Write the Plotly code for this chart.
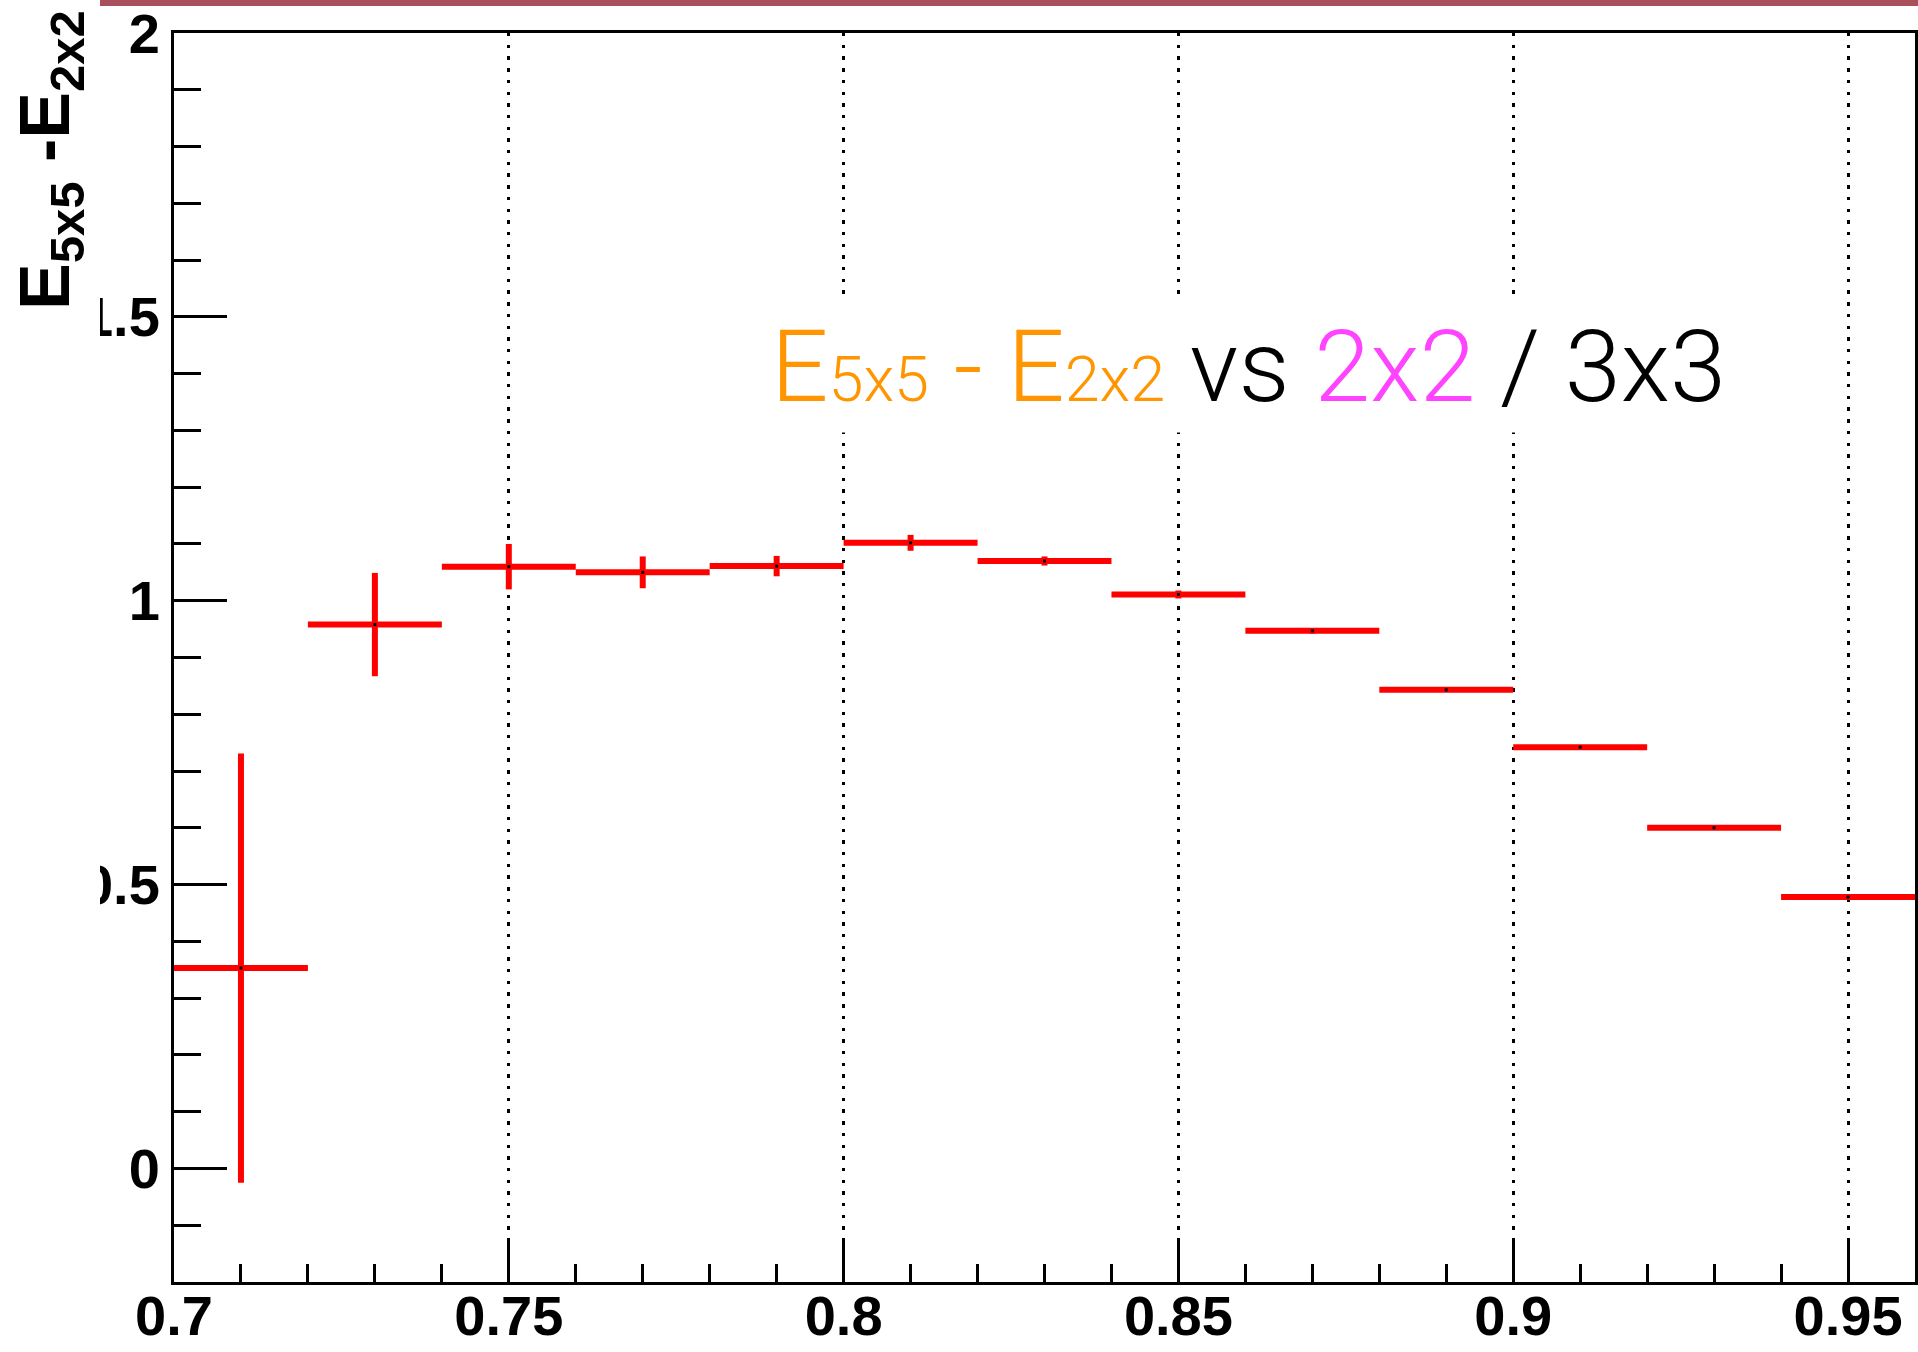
import plotly.graph_objects as go

# ---- data ----
bin_centers = [0.71, 0.73, 0.75, 0.77, 0.79, 0.81, 0.83, 0.85, 0.87, 0.89, 0.91, 0.93, 0.95]
bin_halfwidth = [0.01] * 13
values = [0.353, 0.958, 1.060, 1.050, 1.061, 1.102, 1.070, 1.011, 0.947, 0.843, 0.742, 0.600, 0.478]
errors = [0.378, 0.091, 0.040, 0.028, 0.018, 0.014, 0.008, 0.007, 0.005, 0.003, 0.002, 0.002, 0.002]

x_tickvals = [0.7, 0.75, 0.8, 0.85, 0.9, 0.95]
x_ticktext = ["0.7", "0.75", "0.8", "0.85", "0.9", "0.95"]
y_tickvals = [0, 0.5, 1, 1.5, 2]
y_ticktext = ["0", "0.5", "1", "1.5", "2"]

W, H = 1918, 1352
L, R, T, B = 174, 3, 33, 70
PW, PH = W - L - R, H - T - B


def px_to_paper_x(px):
    return (px - L) / PW


def px_to_paper_y(py):
    return (H - B - py) / PH


fig = go.Figure()
fig.add_trace(go.Scatter(
    x=bin_centers, y=values, mode="markers",
    marker=dict(symbol="square", size=3, color="black"),
    error_x=dict(type="data", array=bin_halfwidth, symmetric=True,
                 thickness=6, width=0, color="#FF0000"),
    error_y=dict(type="data", array=errors, symmetric=True,
                 thickness=6, width=0, color="#FF0000"),
    showlegend=False, hoverinfo="x+y",
))

tickfont = dict(family="Liberation Sans, Arial, Helvetica, sans-serif", size=56,
                color="black", weight="bold")

fig.update_xaxes(
    range=[0.7, 0.96], tickmode="array", tickvals=x_tickvals, ticktext=x_ticktext,
    ticks="inside", ticklen=42, tickwidth=3, tickcolor="black",
    minor=dict(dtick=0.01, tick0=0.7, ticks="inside", ticklen=18, tickwidth=3,
               tickcolor="black", showgrid=False),
    showgrid=True, gridcolor="black", gridwidth=2.6, griddash="3.4px,8.3px",
    showline=True, linecolor="black", linewidth=3, mirror=True,
    zeroline=False, tickfont=tickfont, automargin=False, ticklabelstandoff=-17,
)
fig.update_yaxes(
    range=[-0.2, 2], tickmode="array", tickvals=y_tickvals, ticktext=y_ticktext,
    ticks="inside", ticklen=53, tickwidth=3, tickcolor="black",
    minor=dict(dtick=0.1, tick0=0, ticks="inside", ticklen=27, tickwidth=3,
               tickcolor="black", showgrid=False),
    showgrid=False,
    showline=True, linecolor="black", linewidth=3, mirror=True,
    zeroline=False, tickfont=tickfont, automargin=False,
)

shapes = [
    # white strip at the left edge (the cropped slide image)
    dict(type="rect", xref="paper", yref="paper",
         x0=px_to_paper_x(-5), x1=px_to_paper_x(100),
         y0=px_to_paper_y(H + 5), y1=px_to_paper_y(-5),
         fillcolor="white", line=dict(width=0), layer="above"),
    # maroon bar at the top
    dict(type="rect", xref="paper", yref="paper",
         x0=px_to_paper_x(100), x1=px_to_paper_x(W + 5),
         y0=px_to_paper_y(6), y1=px_to_paper_y(-5),
         fillcolor="#A9505A", line=dict(width=0), layer="above"),
]

annotations = [
    dict(xref="paper", yref="paper", x=px_to_paper_x(50), y=px_to_paper_y(160),
         xanchor="center", yanchor="middle", textangle=-90, showarrow=False,
         text="E<sub>5x5</sub> -E<sub>2x2</sub>",
         font=dict(family="Liberation Sans, Arial, Helvetica, sans-serif", size=70,
                   color="black", weight="bold")),
    dict(xref="x", yref="y", x=0.8604, y=1.412, xanchor="center", yanchor="middle",
         showarrow=False, bgcolor="white", borderpad=6,
         text=('<span style="color:#FF9500">E</span>'
               '<span style="color:#FF9500;font-size:63px">5x5</span>'
               '<span style="color:#FF9500"> - E</span>'
               '<span style="color:#FF9500;font-size:63px">2x2</span>'
               ' vs '
               '<span style="color:#FF44FF">2x2</span>'
               ' / 3x3'),
         font=dict(family="Roboto, Helvetica, Arial, sans-serif", size=101,
                   color="black", weight=300)),
]

fig.update_layout(
    width=W, height=H,
    margin=dict(l=L, r=R, t=T, b=B, pad=0),
    paper_bgcolor="white", plot_bgcolor="white",
    shapes=shapes, annotations=annotations,
)

fig.write_html("out.html")
